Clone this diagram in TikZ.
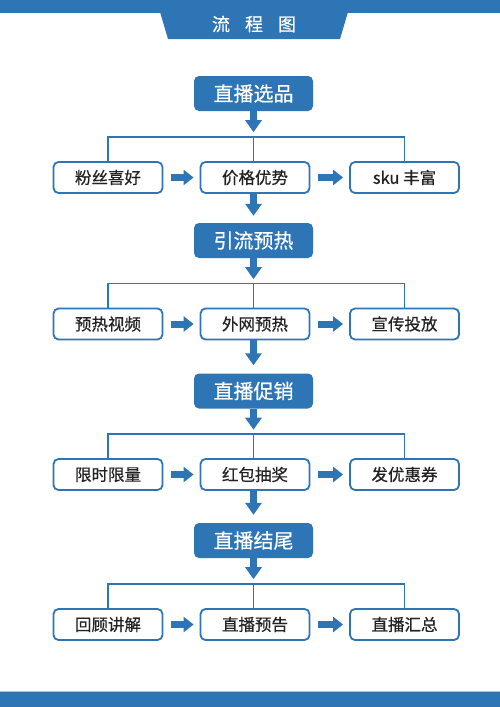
\documentclass[tikz,border=0pt]{standalone}
\usepackage{fontspec}
\setmainfont{Noto Sans CJK SC}
\newfontfamily\medfont{Noto Sans CJK SC}[FakeBold=0.5]
\usetikzlibrary{arrows.meta}
\definecolor{mainblue}{HTML}{2E75B6}
\definecolor{txt}{HTML}{222222}
\tikzset{
  mainbox/.style={draw=none, fill=mainblue, rounded corners=5pt, minimum width=119pt, minimum height=35pt, inner sep=0pt, text=white, font=\medfont\fontsize{20pt}{20pt}\selectfont},
  subbox/.style={draw=mainblue, line width=1.8pt, fill=white, rounded corners=5pt, minimum width=109pt, minimum height=31pt, inner sep=0pt, text=txt, font=\medfont\fontsize{16.5pt}{16.5pt}\selectfont},
  tree/.style={draw=mainblue, line width=1.6pt},
  downarrow/.style={draw=mainblue, line width=7pt, -{Triangle[width=16pt,length=12pt]}},
  sidearrow/.style={draw=mainblue, line width=7pt, -{Triangle[width=15pt,length=10pt]}, shorten <=8pt, shorten >=6pt},
}
\begin{document}
\begin{tikzpicture}[x=1pt,y=-1pt]
\useasboundingbox (0,0) rectangle (500,707);
\fill[white] (0,0) rectangle (500,707);
% top banner
\fill[mainblue] (0,0) rectangle (500,12.5);
\fill[mainblue] (160,12) -- (348,12) -- (340,39) -- (168,39) -- cycle;
\node[text=white, font=\medfont\fontsize{18pt}{18pt}\selectfont, inner sep=0pt] (title) at (254,24) {流\hspace{15pt}程\hspace{15pt}图};
% bottom bar
\fill[mainblue] (0,691) rectangle (500,707);
\draw[mainblue!40, line width=0.8pt] (0,691.2) -- (500,691.2);

% rows
\node[mainbox] (m1) at (253.5,93.5) {直播选品};
\node[subbox] (a1) at (108,177.5) {粉丝喜好};
\node[subbox] (a2) at (255,177.5) {价格优势};
\node[subbox] (a3) at (404.5,177.5) {sku 丰富};

\node[mainbox] (m2) at (253.5,240.5) {引流预热};
\node[subbox] (b1) at (108,324) {预热视频};
\node[subbox] (b2) at (255,324) {外网预热};
\node[subbox] (b3) at (404.5,324) {宣传投放};

\node[mainbox] (m3) at (253.5,391) {直播促销};
\node[subbox] (c1) at (108,474.5) {限时限量};
\node[subbox] (c2) at (255,474.5) {红包抽奖};
\node[subbox] (c3) at (404.5,474.5) {发优惠券};

\node[mainbox] (m4) at (253.5,540.5) {直播结尾};
\node[subbox] (d1) at (108,624.5) {回顾讲解};
\node[subbox] (d2) at (255,624.5) {直播预告};
\node[subbox] (d3) at (404.5,624.5) {直播汇总};

% tree connectors
\foreach \r in {a,b,c,d}{
  \draw[tree] (\r1.north) -- ++(0,-24) -| (\r3.north);
  \draw[tree] ([xshift=-1.5pt]\r2.north) -- ++(0,-24);
  \draw[sidearrow] (\r1.east) -- (\r2.west);
  \draw[sidearrow] (\r2.east) -- (\r3.west);
}
% down arrows
\draw[downarrow] (m1.south) -- ++(0,21);
\draw[downarrow] (m2.south) -- ++(0,21);
\draw[downarrow] (m3.south) -- ++(0,21);
\draw[downarrow] (m4.south) -- ++(0,21);
\draw[downarrow, shorten >=7pt] ([xshift=-1.5pt]a2.south) -- (m2.north);
\draw[downarrow, shorten >=8pt] ([xshift=-1.5pt]b2.south) -- (m3.north);
\draw[downarrow, shorten >=8pt] ([xshift=-1.5pt]c2.south) -- (m4.north);
\end{tikzpicture}
\end{document}
